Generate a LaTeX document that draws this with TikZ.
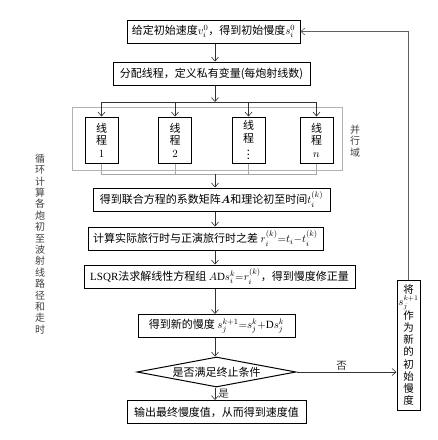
\documentclass[tikz,border=0pt]{standalone}
\usepackage{amsmath}
\usepackage{fontspec}
\setmainfont{Liberation Serif}
\newfontfamily\cjk{Noto Sans CJK SC}
\usepackage{tikz}
\usetikzlibrary{positioning, fit, calc, arrows.meta, backgrounds, shapes.geometric}

\begin{document}
\begin{tikzpicture}[
    x=1pt, y=-1pt,
    >={Straight Barb[length=4pt, width=7pt]},
    blk/.style={draw, line width=1pt, align=center, inner sep=1pt, font=\cjk\fontsize{11pt}{12.5pt}\selectfont, minimum height=23pt},
    proc/.style={blk, minimum width=#1},
    thr/.style={blk, minimum width=33pt, minimum height=46pt},
    dec/.style={blk, diamond, aspect=5.3, minimum width=159pt, minimum height=30pt, inner sep=0pt},
    upd/.style={blk, minimum width=23pt, minimum height=130pt, font=\cjk\fontsize{10.5pt}{12.2pt}\selectfont},
    flow/.style={->, semithick, black!80},
    link/.style={thin, gray!70},
    back/.style={->, semithick, gray!75!black},
    vlbl/.style={align=center, font=\cjk\fontsize{10pt}{11.4pt}\selectfont, text=black!75, inner sep=0pt},
    lbl/.style={font=\cjk\fontsize{10.5pt}{12pt}\selectfont, inner sep=1pt},
]
\useasboundingbox (0, 0) rectangle (438, 440);

% ─── Start: initial model ───
\node[proc=173pt] at (213.5, 31.5) (init) {给定初始速度$v_i^0$，得到初始慢度$s_i^0$};
\node[proc=197pt] at (211.5, 73.5) (alloc) {分配线程，定义私有变量(每炮射线数)};

% ─── Parallel threads ───
\node[thr] at (101.5, 140) (th1) {线\\程\\$1$};
\node[thr] at (175, 140)   (th2) {线\\程\\$2$};
\node[thr] at (248.5, 140) (th3) {线\\程\\$\vdots$};
\node[thr] at (316.5, 140) (th4) {线\\程\\$n$};

% Parallel region frame (background)
\coordinate (parNW) at (72, 107);
\coordinate (parSE) at (342, 170);
\begin{scope}[on background layer]
    \node[draw=gray!60, thin, inner sep=0pt, fit=(parNW)(parSE)] (par) {};
\end{scope}
\node[vlbl] at (355, 141) (parlbl) {并\\行\\域};

% Loop label on the left
\node[vlbl] at (40, 244) (looplbl) {循\\环\\计\\算\\各\\炮\\初\\至\\波\\射\\线\\路\\径\\和\\走\\时};

% ─── Inversion steps ───
\node[proc=237pt] at (211.5, 199.5) (coef)  {得到联合方程的系数矩阵$\boldsymbol{A}$和理论初至时间$t_i^{(k)}$};
\node[proc=235pt] at (205.5, 238.5) (resid) {计算实际旅行时与正演旅行时之差 $r_i^{(k)}{=}t_i{-}t_i^{(k)}$};
\node[proc=271pt] at (219.5, 276.5) (lsqr)  {{\rmfamily LSQR}法求解线性方程组 $A\mathrm{D}s_i^k{=}r_i^{(k)}$，得到慢度修正量};
\node[proc=157pt] at (216.5, 326)   (news)  {得到新的慢度 $s_j^{k+1}{=}s_j^k{+}\mathrm{D}s_j^k$};

% ─── Decision and output ───
\node[dec] at (216.5, 372) (stop) {是否满足终止条件};
\node[proc=179pt] at (216.5, 412) (out) {输出最终慢度值，从而得到速度值};
\node[upd] at (408.5, 345) (upd) {将\\$s_j^{k+1}$\\作\\为\\新\\的\\初\\始\\慢\\度};

% ─── Flows ───
\coordinate (stem)  at (215, 0);
\coordinate (split) at (215, 102);
\coordinate (join)  at (215, 174);

\draw[flow] (init.south -| stem) -- (alloc.north -| stem);
\draw[flow] (alloc.south -| stem) -- (split);
\draw[semithick, black!80] (th1.north |- split) -- (th4.north |- split);
\draw[flow] (th1.north |- split) -- (th1.north);
\draw[flow] (th2.north |- split) -- (th2.north);
\draw[flow] (th3.north |- split) -- (th3.north);
\draw[flow] (th4.north |- split) -- (th4.north);

\draw[link] (th1.south) -- (th1.south |- join) -- (th4.south |- join) -- (th4.south);
\draw[link] (th2.south) -- (th2.south |- join);
\draw[link] (th3.south) -- (th3.south |- join);
\draw[flow] (join) -- (coef.north -| stem);

\draw[flow] (coef.south -| stem)  -- (resid.north -| stem);
\draw[flow] (resid.south -| stem) -- (lsqr.north -| stem);
\draw[flow] (lsqr.south -| stem)  -- (news.north -| stem);
\draw[flow] (news.south -| stem)  -- (stop.north -| stem);
\draw[flow] (stop.south -| stem)  -- node[lbl, right, xshift=2pt] {是} (out.north -| stem);

% No: update slowness, loop back to start
\draw[flow] (stop.east) -- node[lbl, above, pos=0.45] {否} (stop.east -| upd.west);
\draw[back] (upd.north) |- (init.east);

\end{tikzpicture}
\end{document}
